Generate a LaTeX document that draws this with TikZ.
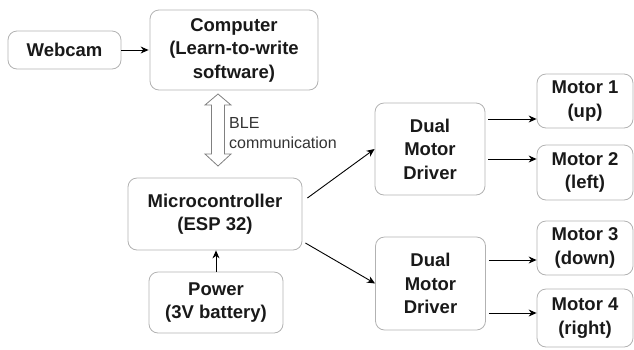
\documentclass[tikz,border=0pt]{standalone}
\usepackage{fontspec}
\setmainfont{Liberation Sans}
\usetikzlibrary{arrows.meta}
\begin{document}
\begin{tikzpicture}[x=1pt, y=-1pt,
    blk/.style={draw=black!30, line width=0.8pt, rounded corners=9pt, align=center,
        inner sep=0pt, text=black!90, font=\fontsize{18.5}{23.5}\selectfont\bfseries},
    motor/.style={blk, minimum width=96pt},
    arr/.style={-{Stealth[length=8pt,width=7pt]}, line width=0.9pt},
    blearr/.style={draw=black!50, fill=white, line width=0.8pt, line join=miter}]
    \useasboundingbox (0,0) rectangle (634,349);

    \node[blk, minimum width=113pt, minimum height=38pt] (webcam) at (64.5,50) {Webcam};
    \node[blk, minimum width=168pt, minimum height=80pt] (comp) at (234,50) {Computer\\(Learn-to-write\\software)};
    \node[blk, minimum width=174pt, minimum height=72pt] (mcu) at (215,214) {Microcontroller\\(ESP 32)};
    \node[blk, minimum width=134pt, minimum height=61pt] (pwr) at (216,302.5) {Power\\(3V battery)};

    \node[blk, minimum width=110pt, minimum height=92pt] (drv1) at (430,149) {Dual\\Motor\\Driver};
    \node[blk, minimum width=110pt, minimum height=93pt] (drv2) at (430.5,283.5) {Dual\\Motor\\Driver};

    \node[motor, minimum height=54pt] (m1) at (585,101) {Motor 1\\(up)};
    \node[motor, minimum height=55pt] (m2) at (585,172.5) {Motor 2\\(left)};
    \node[motor, minimum height=54pt] (m3) at (585,248) {Motor 3\\(down)};
    \node[motor, minimum height=58pt] (m4) at (585,318) {Motor 4\\(right)};

    \draw[blearr] (218,94) -- (231,105) -- (224.5,105) -- (224.5,154) -- (231,154) -- (218,166)
        -- (205,154) -- (211.5,154) -- (211.5,105) -- (205,105) -- cycle;
    \node[anchor=west, align=left, inner sep=0pt, text=black!80,
        font=\fontsize{16}{20}\selectfont] (bletxt) at (229,133) {BLE\\communication};

    \draw[arr, shorten >=1pt] (webcam) -- (comp);
    \draw[arr] (pwr.north) -- (pwr.north |- mcu.south);
    \draw[arr] ([shift={(5,-16)}]mcu.east) -- (drv1.west);
    \draw[arr] ([shift={(3,29)}]mcu.east) -- (drv2.west);

    \draw[arr] ([shift={(3,-30)}]drv1.east) -- ([shift={(0,18)}]m1.west);
    \draw[arr] ([shift={(3,10)}]drv1.east) -- ([shift={(0,-13.5)}]m2.west);
    \draw[arr] ([shift={(3,-23.5)}]drv2.east) -- ([shift={(0,12)}]m3.west);
    \draw[arr] ([shift={(3,29.5)}]drv2.east) -- ([shift={(0,-5)}]m4.west);
\end{tikzpicture}
\end{document}
